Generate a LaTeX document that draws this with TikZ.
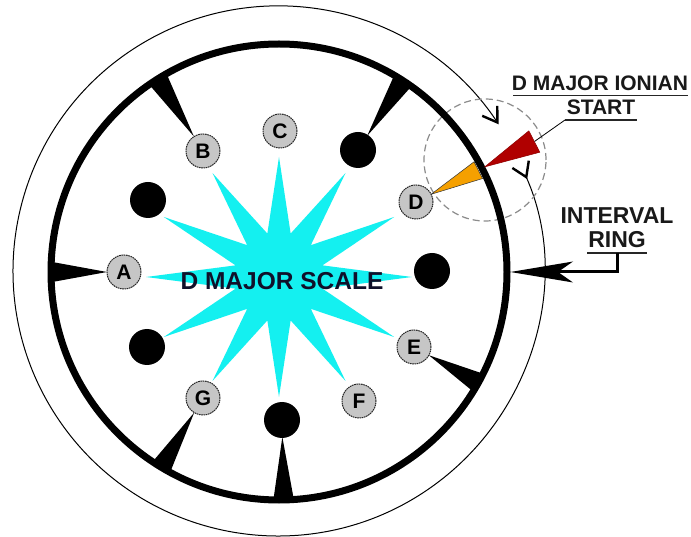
\documentclass[tikz,border=0pt]{standalone}
\usepackage{fontspec}
\setmainfont{Liberation Sans}
\usetikzlibrary{arrows.meta,calc}
\definecolor{starcyan}{HTML}{14F0F0}
\definecolor{nodegray}{HTML}{C6C6C6}
\definecolor{wedgered}{HTML}{B00000}
\definecolor{wedgeorange}{HTML}{F5A000}
\definecolor{dashgray}{HTML}{8C8C8C}
\definecolor{scaletext}{HTML}{10102A}
\begin{document}
\begin{tikzpicture}[x=1pt,y=1pt,
  notenode/.style={circle, fill=nodegray, draw=black!85, dash pattern=on 1.6pt off 0.7pt, line width=1pt, minimum size=34pt, inner sep=0pt, text=black, font=\fontsize{21}{21}\selectfont\bfseries},
  blackdot/.style={circle, fill=black, minimum size=36pt, inner sep=0pt},
  tickwedge/.style={fill=black},
  textlabel/.style={font=\bfseries\fontsize{21}{21}\selectfont, text=black!90, inner sep=0pt, anchor=base},
  biglabel/.style={font=\bfseries\fontsize{23}{23}\selectfont, text=black!90, inner sep=0pt, anchor=base},
  uline/.style={line width=1.8pt, black!85},
  barb/.tip={Straight Barb[length=14pt,width=18pt,line width=2.4pt]},
]
\fill[white] (0,0) rectangle (691,536);
\useasboundingbox (0,0) rectangle (691,536);
\coordinate (O) at (279,264);
\coordinate (Oo) at (278,265);
% note positions
\coordinate (pC) at (280,405);
\coordinate (pB) at (203,385);
\coordinate (pA) at (124,264);
\coordinate (pD) at (416,334);
\coordinate (pE) at (414,189);
\coordinate (pF) at (359,135);
\coordinate (pG) at (203,138);
\coordinate (p60) at (358,386);
\coordinate (p0) at (432,265);
\coordinate (p270) at (282,116);
\coordinate (p210) at (147,189);
\coordinate (p150) at (148,336);

% star
\fill[starcyan] plot[samples at={0,...,23}, variable=\k]
  ({279+(mod(\k,2)==0 ? 133 : 45)*cos(\k*15)}, {259+(mod(\k,2)==0 ? 120 : 45)*sin(\k*15)}) -- cycle;

% outer interval ring with direction marks
\draw[line width=1pt, {barb}-{barb[reversed]}] ($(Oo)+(33.6:265)$) arc[start angle=33.6, end angle=384, radius=265];

% dashed highlight circle
\draw[dashgray, line width=1.2pt, dash pattern=on 7pt off 4pt] (485,376) circle[radius=61];

% thick ring
\draw[line width=7pt] (O) circle[radius=228];

% tick wedges
\foreach \n in {pA,pB,p60,pE,p270,pG}
  \fill[tickwedge] ($(O)!229pt!2.6:(\n)$) -- ($(O)!229pt!-2.6:(\n)$) -- ($(\n)!17pt!180:(O)$) -- cycle;

% start wedges
\filldraw[fill=wedgeorange, draw=black!80, line width=0.5pt]
  ($(O)!224pt!2.4:(pD)$) -- ($(O)!224pt!-2.4:(pD)$) -- ($(pD)!17pt!180:(O)$) -- cycle;
\filldraw[fill=wedgered, draw=wedgered!80!black, line width=0.5pt]
  ($(O)!231pt!(pD)$) -- ($(O)!287pt!2.4:(pD)$) -- ($(O)!287pt!-2.4:(pD)$) -- cycle;
\coordinate (redend) at ($(O)!287pt!(pD)$);

% notes
\node[notenode] (C) at (pC) {C};
\node[notenode] (B) at (pB) {B};
\node[notenode] (A) at (pA) {A};
\node[notenode] (D) at (pD) {D};
\node[notenode] (E) at (pE) {E};
\node[notenode] (F) at (pF) {F};
\node[notenode] (G) at (pG) {G};
\node[blackdot] (d60) at (p60) {};
\node[blackdot] (d0) at (p0) {};
\node[blackdot] (d270) at (p270) {};
\node[blackdot] (d210) at (p210) {};
\node[blackdot] (d150) at (p150) {};

% centre label
\node[font=\bfseries\fontsize{24.5}{24.5}\selectfont, text=scaletext, inner sep=0pt, anchor=base] (scale) at (282,246) {D MAJOR SCALE};

% D MAJOR IONIAN START
\node[textlabel] (ionian) at (600,445) {D MAJOR IONIAN};
\node[textlabel] (start) at (601,421) {START};
\coordinate (u1a) at (513,440.5);
\coordinate (u1b) at (688,440.5);
\coordinate (u2a) at (565,416);
\coordinate (u2b) at (637,416);
\draw[uline] (u1a) -- (u1b);
\draw[uline] (u2a) -- (u2b);
\draw[line width=0.8pt] (redend) -- (u2a);

% INTERVAL RING
\node[biglabel] (interval) at (617,312) {INTERVAL};
\node[biglabel] (ring) at (617,288) {RING};
\coordinate (u3a) at (587,283);
\coordinate (u3b) at (647,283);
\coordinate (u3m) at (617,283);
\draw[uline] (u3a) -- (u3b);
\coordinate (itip) at (510.5,264);
\coordinate (inotch) at (558,264);
\fill (itip) -- (573,274.5) -- (inotch) -- (573,253.5) -- cycle;
\draw[line width=3pt, line join=miter] (inotch) -- (617,264) -- (u3m);
\end{tikzpicture}
\end{document}
